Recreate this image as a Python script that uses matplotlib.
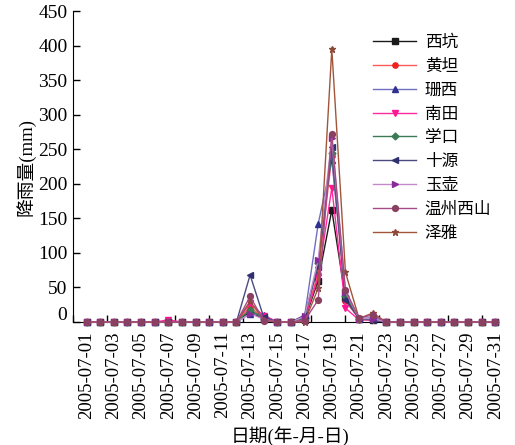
import matplotlib
matplotlib.use("Agg")
import matplotlib.pyplot as plt
import matplotlib.transforms as mtransforms
from matplotlib.ticker import MultipleLocator, FixedLocator

plt.rcParams['font.family'] = ['Liberation Serif', 'Noto Sans CJK SC']

days = list(range(1, 32))
date_labels = [f"2005-07-{d:02d}" for d in days]

def series(vals):
    s = [0.0] * 31
    for d, v in vals.items():
        s[d - 1] = v
    return s

xikeng   = series({13: 15, 14: 4, 17: 3, 18: 60, 19: 162, 20: 35, 21: 4, 22: 3})
huangtan = series({13: 22, 14: 5, 17: 5, 18: 70, 19: 240, 20: 30, 21: 5, 22: 4})
shanxi   = series({13: 12, 14: 10, 17: 8, 18: 142, 19: 234, 20: 40, 21: 5, 22: 6})
nantian  = series({7: 3, 13: 27, 14: 9, 17: 4, 18: 65, 19: 194, 20: 20, 21: 3, 22: 3})
xuekou   = series({13: 18, 14: 5, 17: 6, 18: 85, 19: 245, 20: 38, 21: 5, 22: 5})
shiyuan  = series({13: 68, 14: 7, 17: 10, 18: 80, 19: 253, 20: 32, 21: 5, 22: 3})
yuhu     = series({13: 12, 14: 4, 17: 8, 18: 90, 19: 266, 20: 44, 21: 5, 22: 5})
wzxishan = series({13: 37, 14: 2, 17: 2, 18: 32, 19: 272, 20: 46, 21: 6, 22: 10})
zeya     = series({13: 30, 14: 3, 17: 0, 18: 49, 19: 395, 20: 72, 21: 5, 22: 13})

names = ["西坑", "黄坦", "珊西", "南田", "学口", "十源", "玉壶", "温州西山", "泽雅"]
data = [xikeng, huangtan, shanxi, nantian, xuekou, shiyuan, yuhu, wzxishan, zeya]
line_colors = ["#1a1a1a", "#ff5a5a", "#7070c0", "#ff2aa0", "#3a7a55", "#4a4a80", "#c28ac8", "#a84a88", "#a0553a"]
marker_colors = ["#1a1a1a", "#ee2020", "#303090", "#ff1493", "#3a7a55", "#303070", "#8a2a9a", "#8a4060", "#8a4a3a"]
markers = ["s", "o", "^", "v", "D", "<", ">", "o", "*"]
msizes = [3.8, 3.8, 4.2, 4.2, 3.5, 4.2, 4.2, 4.2, 5]
zorders = [3, 3, 3, 3, 3, 3, 3, 5, 4]

fig = plt.figure(figsize=(5.15, 4.45), dpi=100)
ax = fig.add_axes([73/515, 1 - 322/445, (498 - 73)/515, (322 - 11)/445])

for name, vals, lc, mc, mk, ms, zo in zip(names, data, line_colors, marker_colors, markers, msizes, zorders):
    ax.plot(days, vals, color=lc, lw=1.0, marker=mk, markersize=ms,
            markerfacecolor=mc, markeredgecolor=mc, label=name, zorder=zo, clip_on=False)

ax.set_xlim(0, 31.2)
ax.set_ylim(0, 450)
ax.spines['top'].set_visible(False)
ax.spines['right'].set_visible(False)

ax.xaxis.set_major_locator(FixedLocator(days[::2]))
ax.set_xticklabels(date_labels[::2], rotation=90, fontsize=13.5)
ax.xaxis.set_minor_locator(MultipleLocator(2.5))
ax.tick_params(axis='x', which='major', length=0, pad=7)
ax.tick_params(axis='x', which='minor', length=5, direction='in', width=1)
ax.set_yticks(range(0, 451, 50))
ax.tick_params(axis='y', which='major', length=5, direction='in', width=1, labelsize=14, pad=4)

# shift the "0" label upward as in the reference
fig.canvas.draw()
for lbl in ax.get_yticklabels():
    if lbl.get_text() == "0":
        lbl.set_transform(lbl.get_transform() + mtransforms.ScaledTranslation(0, 9/100, fig.dpi_scale_trans))

fig.text(290/515, 1 - 436/445, "日期(年-月-日)", fontsize=13.5, ha='center', va='center')
ax.set_ylabel("降雨量(mm)", fontsize=13.5, labelpad=2)

leg = ax.legend(loc='upper left', bbox_to_anchor=(373/515, 1 - 35/445), bbox_transform=fig.transFigure,
                frameon=False, fontsize=12, handlelength=2.6, labelspacing=0.47, handletextpad=0.5,
                borderaxespad=0, borderpad=0)

fig.savefig("out.png", dpi=100)
